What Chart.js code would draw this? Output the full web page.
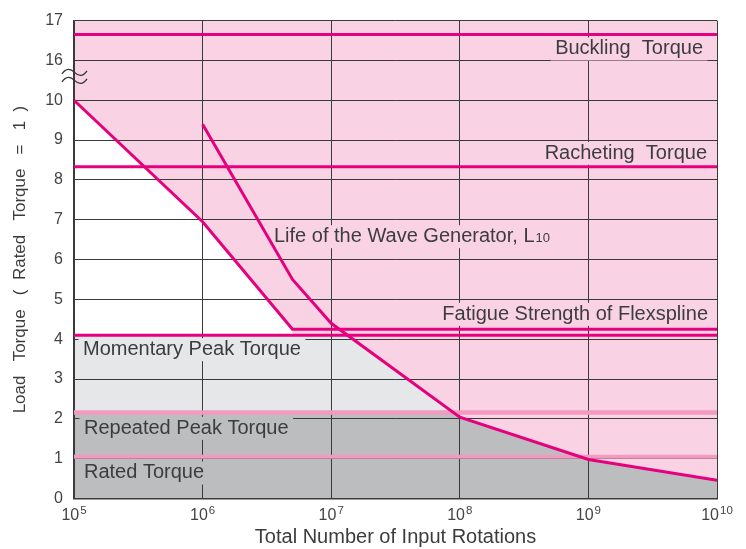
<!DOCTYPE html>
<html>
<head>
<meta charset="utf-8">
<script src="https://cdn.jsdelivr.net/npm/chart.js@4.4.1/dist/chart.umd.min.js"></script>
<style>
  html, body { margin: 0; padding: 0; background: #fff; }
  canvas { display: block; }
</style>
</head>
<body>
<canvas id="torqueChart" width="746" height="549"></canvas>
<script>
// x axis: total number of input rotations (log)
const xTicks = [1e5, 1e6, 1e7, 1e8, 1e9, 1e10];
const xTickExponents = ['5', '6', '7', '8', '9', '10'];

// y axis is broken between 10 and 16
const yTickLabels = ['0', '1', '2', '3', '4', '5', '6', '7', '8', '9', '10', '16', '17'];
const yBreakFrom = 10;
const yBreakTo = 15;

// torque levels (rated torque = 1)
const yTop = 17;
const bucklingTorque = 16.65;
const rachetingTorque = 8.33;
const momentaryPeak = 4.1;
const repeatedPeak = 2.16;
const ratedTorque = 1.05;

// flexspline fatigue limit curve
const flexX = [1e5, 1e6, 5e6, 1e10];
const flexY = [10, 6.95, 4.25, 4.25];

// wave generator L10 life curve
const waveX = [1e6, 5e6, 1e7, 1e8, 1e9, 1e10];
const waveY = [9.4, 5.5, 4.4, 2.04, 0.98, 0.46];

const MAGENTA = '#e6007e';
const BAND = '#f39ac1';
const PINK = '#f9d3e4';
const LIGHT_GRAY = '#e6e7e8';
const DARK_GRAY = '#bcbdbf';
const TEXT = '#3c3c3e';
const FONT = '"Liberation Sans", Arial, sans-serif';

// squeeze values above the break
const toAxis = v => (v > yBreakFrom ? v - (yBreakTo - yBreakFrom) : v);
const points = (xs, ys) => xs.map((x, i) => ({ x: x, y: toAxis(ys[i]) }));
const level = v => points([xTicks[0], xTicks[xTicks.length - 1]], [v, v]);

const notes = [
  { text: 'Buckling  Torque', side: 'right', dx: 14, y: 11.15, bg: PINK },
  { text: 'Racheting  Torque', side: 'right', dx: 10, y: 8.53, bg: PINK },
  { text: 'Life of the Wave Generator, L', sub: '10', side: 'left', dx: 200, y: 6.435, bg: PINK },
  { text: 'Fatigue Strength of Flexspline', side: 'right', dx: 9, y: 4.486, bg: PINK },
  { text: 'Momentary Peak Torque', side: 'left', dx: 9, y: 3.6, bg: LIGHT_GRAY },
  { text: 'Repeated Peak Torque', side: 'left', dx: 10, y: 1.623, bg: DARK_GRAY },
  { text: 'Rated Torque', side: 'left', dx: 10, y: 0.503, bg: DARK_GRAY }
];

// text labels sit on boxes that hide the grid behind them
const noteBoxes = {
  id: 'noteBoxes',
  beforeDatasetsDraw(chart) {
    const { ctx, chartArea: a, scales: { y } } = chart;
    ctx.save();
    notes.forEach(n => {
      ctx.font = '20px ' + FONT;
      let w = ctx.measureText(n.text).width;
      let subW = 0;
      if (n.sub) {
        ctx.font = '13px ' + FONT;
        subW = ctx.measureText(n.sub).width + 1;
      }
      const total = w + subW;
      const left = n.side === 'left' ? a.left + n.dx : a.right - n.dx - total;
      const base = y.getPixelForValue(n.y);
      ctx.fillStyle = n.bg;
      ctx.fillRect(left - 4.5, base - 17, total + 9, 23);
      ctx.fillStyle = TEXT;
      ctx.textAlign = 'left';
      ctx.textBaseline = 'alphabetic';
      ctx.font = '20px ' + FONT;
      ctx.fillText(n.text, left, base);
      if (n.sub) {
        ctx.font = '13px ' + FONT;
        ctx.fillText(n.sub, left + w + 1, base);
      }
    });
    ctx.restore();
  }
};

// powers of ten with a raised exponent under each decade
const decadeLabels = {
  id: 'decadeLabels',
  afterDraw(chart) {
    const { ctx, chartArea: a, scales: { x } } = chart;
    ctx.save();
    ctx.fillStyle = '#444';
    ctx.textAlign = 'left';
    ctx.textBaseline = 'alphabetic';
    xTicks.forEach((v, i) => {
      ctx.font = '16px ' + FONT;
      const wBase = ctx.measureText('10').width;
      ctx.font = '11.5px ' + FONT;
      const wExp = ctx.measureText(xTickExponents[i]).width;
      const left = x.getPixelForValue(v) - (wBase + wExp + 1) / 2;
      ctx.font = '16px ' + FONT;
      ctx.fillText('10', left, a.bottom + 21.5);
      ctx.font = '11.5px ' + FONT;
      ctx.fillText(xTickExponents[i], left + wBase + 1, a.bottom + 15);
    });
    ctx.restore();
  }
};

// the two tildes marking the axis break
const axisBreak = {
  id: 'axisBreak',
  afterDraw(chart) {
    const { ctx, chartArea: a, scales: { y } } = chart;
    ctx.save();
    ctx.strokeStyle = '#333';
    ctx.lineWidth = 1.3;
    [10.7, 10.5].forEach(v => {
      const cy = y.getPixelForValue(v);
      const x0 = a.left - 12;
      const x1 = a.left + 13;
      const xm = (x0 + x1) / 2;
      ctx.beginPath();
      ctx.moveTo(x0, cy + 1.5);
      ctx.bezierCurveTo(x0 + 4, cy - 4.5, xm - 4, cy - 4, xm, cy);
      ctx.bezierCurveTo(xm + 4, cy + 4, x1 - 4, cy + 4.5, x1, cy - 1.5);
      ctx.stroke();
    });
    ctx.restore();
  }
};

const lineStyle = { pointRadius: 0, tension: 0, fill: false };

new Chart(document.getElementById('torqueChart'), {
  type: 'line',
  data: {
    datasets: [
      // wave generator life, everything above it is out of range
      { ...lineStyle, data: points(waveX, waveY), borderColor: MAGENTA, borderWidth: 3,
        fill: 'end', backgroundColor: PINK },
      { ...lineStyle, data: points(flexX, flexY), borderColor: MAGENTA, borderWidth: 3 },
      // usable area under the flexspline curve
      { ...lineStyle, data: points(flexX.slice(0, 3), flexY.slice(0, 3)), borderWidth: 0,
        fill: { value: momentaryPeak }, backgroundColor: '#ffffff' },
      { ...lineStyle, data: level(bucklingTorque), borderColor: MAGENTA, borderWidth: 3 },
      { ...lineStyle, data: level(rachetingTorque), borderColor: MAGENTA, borderWidth: 3 },
      { ...lineStyle, data: level(ratedTorque), borderColor: BAND, borderWidth: 4 },
      { ...lineStyle, data: level(repeatedPeak), borderColor: BAND, borderWidth: 4.5,
        fill: 'origin', backgroundColor: DARK_GRAY },
      { ...lineStyle, data: level(momentaryPeak), borderColor: MAGENTA, borderWidth: 3,
        fill: 'origin', backgroundColor: LIGHT_GRAY },
      { ...lineStyle, data: level(yTop), borderWidth: 0, fill: 'origin', backgroundColor: PINK }
    ]
  },
  options: {
    responsive: false,
    animation: false,
    devicePixelRatio: 1,
    layout: { padding: { top: 16.5, right: 29, bottom: 0, left: 0 } },
    plugins: {
      legend: { display: false },
      tooltip: { enabled: false },
      filler: { drawTime: 'beforeDraw' }
    },
    scales: {
      x: {
        type: 'logarithmic',
        min: xTicks[0],
        max: xTicks[xTicks.length - 1],
        afterBuildTicks: axis => { axis.ticks = xTicks.map(v => ({ value: v })); },
        afterFit: axis => { axis.height = 50.5; },
        grid: { color: '#3a3a3a', lineWidth: 1, drawTicks: false },
        border: { color: '#3a3a3a', width: 1.5 },
        ticks: { display: false },
        title: {
          display: true,
          text: 'Total Number of Input Rotations',
          color: TEXT,
          font: { family: FONT, size: 20 },
          padding: 0
        }
      },
      y: {
        min: 0,
        max: yTickLabels.length - 1,
        afterFit: axis => { axis.width = 74; },
        grid: { color: '#3a3a3a', lineWidth: 1, drawTicks: false },
        border: { color: '#3a3a3a', width: 1.5 },
        ticks: {
          stepSize: 1,
          padding: 11,
          color: '#444',
          font: { family: FONT, size: 16 },
          callback: v => yTickLabels[v]
        },
        title: {
          display: true,
          text: 'Load   Torque   (  Rated   Torque   =   1  )',
          color: TEXT,
          font: { family: FONT, size: 17 },
          padding: 10
        }
      }
    }
  },
  plugins: [noteBoxes, decadeLabels, axisBreak]
});
</script>
</body>
</html>
